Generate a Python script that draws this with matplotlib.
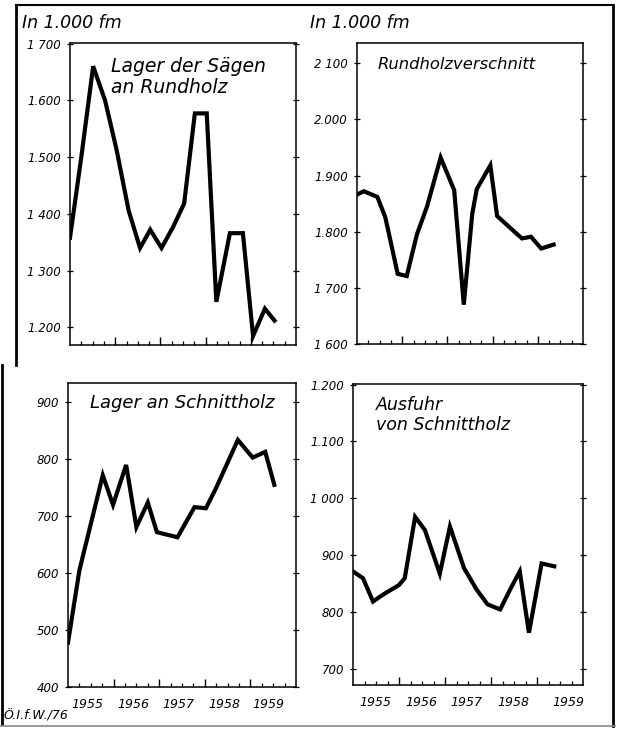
import matplotlib
matplotlib.use("Agg")
import matplotlib.pyplot as plt
from matplotlib.lines import Line2D

# quarters since start of 1955 (x) and values in 1.000 fm (y)
lager_saegen_x = [0, 1, 2.05, 3.1, 4.1, 5.2, 6.2, 7.1, 8.1, 9.1, 10.1, 11.05, 12.1, 12.95, 14.15, 15.3, 16.2, 17.25, 18.1]
lager_saegen_y = [1358, 1500, 1660, 1600, 1515, 1405, 1340, 1372, 1340, 1376, 1418, 1577, 1577, 1245, 1366, 1366, 1185, 1233, 1212]

verschnitt_x = [0, 0.6, 1.8, 2.5, 3.6, 4.4, 5.3, 6.2, 7.4, 8.6, 9.45, 10.2, 10.6, 11.8, 12.4, 13.6, 14.6, 15.4, 16.3, 17.4]
verschnitt_y = [1866, 1872, 1862, 1826, 1725, 1721, 1795, 1845, 1932, 1874, 1670, 1832, 1876, 1918, 1828, 1806, 1788, 1791, 1770, 1777]

schnittholz_x = [0, 1, 3.05, 3.95, 5.1, 6, 7, 7.8, 9.6, 11.1, 12.1, 13, 14.9, 16.2, 17.3, 18.1]
schnittholz_y = [478, 605, 772, 720, 790, 681, 724, 672, 663, 716, 714, 750, 834, 803, 813, 755]

ausfuhr_x = [0, 0.87, 1.74, 2.6, 4.0, 4.5, 5.4, 6.25, 7.55, 8.43, 9.65, 10.75, 11.7, 12.8, 13.66, 14.5, 15.3, 16.4, 17.5]
ausfuhr_y = [871, 859, 818, 830, 847, 859, 967, 944, 867, 950, 877, 839, 813, 804, 839, 871, 763, 885, 880]

years = ["1955", "1956", "1957", "1958", "1959"]

tl_ticks = [1200, 1300, 1400, 1500, 1600, 1700]
tl_labels = ["1.200", "1 300", "1 400", "1.500", "1.600", "1 700"]
tr_ticks = [1600, 1700, 1800, 1900, 2000, 2100]
tr_labels = ["1 600", "1 700", "1.800", "1.900", "2.000", "2 100"]
bl_ticks = [400, 500, 600, 700, 800, 900]
bl_labels = ["400", "500", "600", "700", "800", "900"]
br_ticks = [700, 800, 900, 1000, 1100, 1200]
br_labels = ["700", "800", "900", "1 000", "1.100", "1.200"]

plt.rcParams["font.family"] = ["DejaVu Sans"]
plt.rcParams["font.style"] = "italic"

W, H = 625, 730
fig = plt.figure(figsize=(W / 100, H / 100), dpi=100)


def make_axes(px_left, px_top, px_right, px_bottom):
    return fig.add_axes([px_left / W, 1 - px_bottom / H,
                         (px_right - px_left) / W, (px_bottom - px_top) / H])


def panel(ax, xs, ys, ylim, ticks, labels, title, tx, ty, tsize, year_pos=None):
    ax.plot(xs, ys, color="black", lw=3.0, solid_joinstyle="miter")
    ax.set_xlim(0, 20)
    ax.set_ylim(*ylim)
    ax.set_yticks(ticks)
    ax.set_yticklabels(labels, fontsize=8.5, style="italic")
    ax.tick_params(axis="y", direction="inout", length=5, width=0.9, pad=4)
    ax.tick_params(axis="y", which="major", right=True)
    ax.set_xticks([4, 8, 12, 16])
    ax.set_xticklabels([])
    ax.set_xticks(range(1, 20), minor=True)
    ax.tick_params(axis="x", which="major", direction="in", length=6, width=1)
    ax.tick_params(axis="x", which="minor", direction="in", length=3, width=0.9)
    for s in ax.spines.values():
        s.set_linewidth(1.1)
    ax.text(tx, ty, title, transform=ax.transAxes, fontsize=tsize,
            style="italic", va="top", ha="left", linespacing=1.15)
    if year_pos is not None:
        for p, yr in zip(year_pos, years):
            ax.text(p, -0.035, yr, transform=ax.get_xaxis_transform(),
                    fontsize=9, style="italic", ha="center", va="top")


ax1 = make_axes(70, 43, 296, 345)
panel(ax1, lager_saegen_x, lager_saegen_y, (1169, 1701), tl_ticks, tl_labels,
      "Lager der Sägen\nan Rundholz", 0.18, 0.955, 13.5)

ax2 = make_axes(357, 43, 583, 344)
panel(ax2, verschnitt_x, verschnitt_y, (1600, 2136), tr_ticks, tr_labels,
      "Rundholzverschnitt", 0.09, 0.955, 11.8)

ax3 = make_axes(68, 383, 296, 687)
panel(ax3, schnittholz_x, schnittholz_y, (400, 934), bl_ticks, bl_labels,
      "Lager an Schnittholz", 0.095, 0.965, 13,
      year_pos=[1.67, 5.7, 9.7, 13.7, 17.6])

ax4 = make_axes(353, 384, 583, 685)
panel(ax4, ausfuhr_x, ausfuhr_y, (671, 1201), br_ticks, br_labels,
      "Ausfuhr\nvon Schnittholz", 0.1, 0.96, 12.5,
      year_pos=[1.98, 5.96, 9.9, 13.95, 18.7])

# unit captions and source
fig.text(22 / W, 1 - 23 / H, "In 1.000 fm", fontsize=12.5, style="italic",
         va="center", ha="left")
fig.text(310 / W, 1 - 23 / H, "In 1.000 fm", fontsize=12.5, style="italic",
         va="center", ha="left")
fig.text(4 / W, 1 - 716 / H, "Ö.I.f.W./76", fontsize=9, style="italic",
         va="center", ha="left")

# page frame from the scan
frame = [
    ([16 / W, 613 / W], [1 - 5 / H, 1 - 5 / H], 1.5, "black"),
    ([613 / W, 613 / W], [1 - 5 / H, 1 - 726 / H], 2.0, "black"),
    ([16 / W, 16 / W], [1 - 5 / H, 1 - 365 / H], 2.0, "black"),
    ([2 / W, 2 / W], [1 - 365 / H, 1 - 724 / H], 2.0, "black"),
    ([0, 615 / W], [1 - 726 / H, 1 - 726 / H], 1.2, "#888888"),
]
for xs, ys, lw, c in frame:
    fig.add_artist(Line2D(xs, ys, transform=fig.transFigure, lw=lw, color=c))

fig.savefig("out.png", dpi=100)
